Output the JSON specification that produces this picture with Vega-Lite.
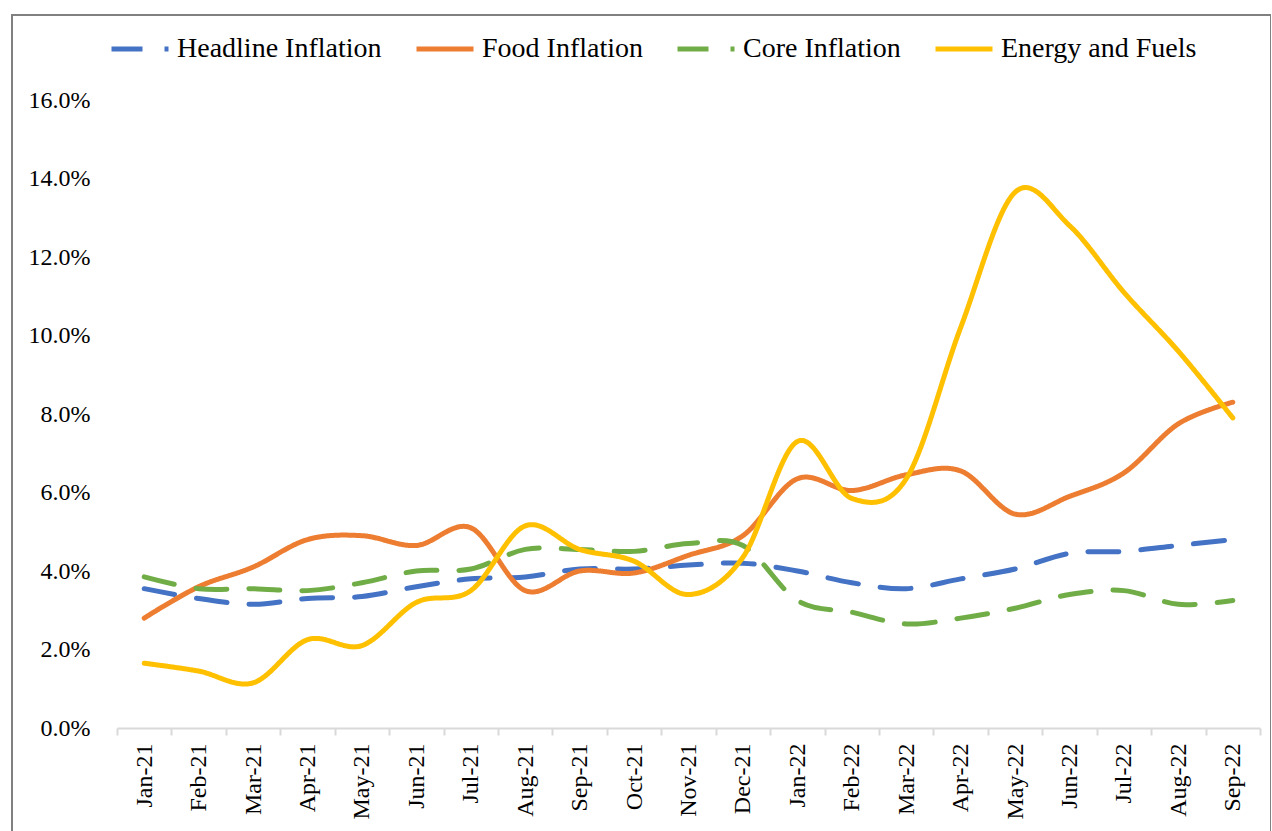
{
  "$schema": "https://vega.github.io/schema/vega-lite/v6.json",
  "width": 1259,
  "height": 830,
  "autosize": {"type": "none"},
  "padding": {"left": 12, "top": 15, "right": 0, "bottom": 0},
  "background": "white",
  "config": {"view": {"stroke": "#808080", "strokeWidth": 2}, "font": "Liberation Serif"},
  "data": {"values": [
    {"month": "Jan-21", "series": "Headline Inflation", "value": 3.55},
    {"month": "Feb-21", "series": "Headline Inflation", "value": 3.3},
    {"month": "Mar-21", "series": "Headline Inflation", "value": 3.15},
    {"month": "Apr-21", "series": "Headline Inflation", "value": 3.3},
    {"month": "May-21", "series": "Headline Inflation", "value": 3.35},
    {"month": "Jun-21", "series": "Headline Inflation", "value": 3.6},
    {"month": "Jul-21", "series": "Headline Inflation", "value": 3.8},
    {"month": "Aug-21", "series": "Headline Inflation", "value": 3.85},
    {"month": "Sep-21", "series": "Headline Inflation", "value": 4.05},
    {"month": "Oct-21", "series": "Headline Inflation", "value": 4.05},
    {"month": "Nov-21", "series": "Headline Inflation", "value": 4.15},
    {"month": "Dec-21", "series": "Headline Inflation", "value": 4.2},
    {"month": "Jan-22", "series": "Headline Inflation", "value": 4.0},
    {"month": "Feb-22", "series": "Headline Inflation", "value": 3.7},
    {"month": "Mar-22", "series": "Headline Inflation", "value": 3.55},
    {"month": "Apr-22", "series": "Headline Inflation", "value": 3.8},
    {"month": "May-22", "series": "Headline Inflation", "value": 4.05},
    {"month": "Jun-22", "series": "Headline Inflation", "value": 4.45},
    {"month": "Jul-22", "series": "Headline Inflation", "value": 4.5},
    {"month": "Aug-22", "series": "Headline Inflation", "value": 4.65},
    {"month": "Sep-22", "series": "Headline Inflation", "value": 4.8},
    {"month": "Jan-21", "series": "Food Inflation", "value": 2.8},
    {"month": "Feb-21", "series": "Food Inflation", "value": 3.6},
    {"month": "Mar-21", "series": "Food Inflation", "value": 4.1},
    {"month": "Apr-21", "series": "Food Inflation", "value": 4.8},
    {"month": "May-21", "series": "Food Inflation", "value": 4.9},
    {"month": "Jun-21", "series": "Food Inflation", "value": 4.65},
    {"month": "Jul-21", "series": "Food Inflation", "value": 5.1},
    {"month": "Aug-21", "series": "Food Inflation", "value": 3.5},
    {"month": "Sep-21", "series": "Food Inflation", "value": 4.0},
    {"month": "Oct-21", "series": "Food Inflation", "value": 3.95},
    {"month": "Nov-21", "series": "Food Inflation", "value": 4.4},
    {"month": "Dec-21", "series": "Food Inflation", "value": 4.9},
    {"month": "Jan-22", "series": "Food Inflation", "value": 6.35},
    {"month": "Feb-22", "series": "Food Inflation", "value": 6.05},
    {"month": "Mar-22", "series": "Food Inflation", "value": 6.45},
    {"month": "Apr-22", "series": "Food Inflation", "value": 6.55},
    {"month": "May-22", "series": "Food Inflation", "value": 5.45},
    {"month": "Jun-22", "series": "Food Inflation", "value": 5.9},
    {"month": "Jul-22", "series": "Food Inflation", "value": 6.5},
    {"month": "Aug-22", "series": "Food Inflation", "value": 7.75},
    {"month": "Sep-22", "series": "Food Inflation", "value": 8.3},
    {"month": "Jan-21", "series": "Core Inflation", "value": 3.85},
    {"month": "Feb-21", "series": "Core Inflation", "value": 3.55},
    {"month": "Mar-21", "series": "Core Inflation", "value": 3.55},
    {"month": "Apr-21", "series": "Core Inflation", "value": 3.5},
    {"month": "May-21", "series": "Core Inflation", "value": 3.7},
    {"month": "Jun-21", "series": "Core Inflation", "value": 4.0},
    {"month": "Jul-21", "series": "Core Inflation", "value": 4.05},
    {"month": "Aug-21", "series": "Core Inflation", "value": 4.55},
    {"month": "Sep-21", "series": "Core Inflation", "value": 4.55},
    {"month": "Oct-21", "series": "Core Inflation", "value": 4.5},
    {"month": "Nov-21", "series": "Core Inflation", "value": 4.7},
    {"month": "Dec-21", "series": "Core Inflation", "value": 4.65},
    {"month": "Jan-22", "series": "Core Inflation", "value": 3.25},
    {"month": "Feb-22", "series": "Core Inflation", "value": 2.95},
    {"month": "Mar-22", "series": "Core Inflation", "value": 2.65},
    {"month": "Apr-22", "series": "Core Inflation", "value": 2.8},
    {"month": "May-22", "series": "Core Inflation", "value": 3.05},
    {"month": "Jun-22", "series": "Core Inflation", "value": 3.4},
    {"month": "Jul-22", "series": "Core Inflation", "value": 3.5},
    {"month": "Aug-22", "series": "Core Inflation", "value": 3.15},
    {"month": "Sep-22", "series": "Core Inflation", "value": 3.25},
    {"month": "Jan-21", "series": "Energy and Fuels", "value": 1.65},
    {"month": "Feb-21", "series": "Energy and Fuels", "value": 1.45},
    {"month": "Mar-21", "series": "Energy and Fuels", "value": 1.15},
    {"month": "Apr-21", "series": "Energy and Fuels", "value": 2.25},
    {"month": "May-21", "series": "Energy and Fuels", "value": 2.1},
    {"month": "Jun-21", "series": "Energy and Fuels", "value": 3.2},
    {"month": "Jul-21", "series": "Energy and Fuels", "value": 3.5},
    {"month": "Aug-21", "series": "Energy and Fuels", "value": 5.15},
    {"month": "Sep-21", "series": "Energy and Fuels", "value": 4.55},
    {"month": "Oct-21", "series": "Energy and Fuels", "value": 4.25},
    {"month": "Nov-21", "series": "Energy and Fuels", "value": 3.4},
    {"month": "Dec-21", "series": "Energy and Fuels", "value": 4.35},
    {"month": "Jan-22", "series": "Energy and Fuels", "value": 7.3},
    {"month": "Feb-22", "series": "Energy and Fuels", "value": 5.85},
    {"month": "Mar-22", "series": "Energy and Fuels", "value": 6.35},
    {"month": "Apr-22", "series": "Energy and Fuels", "value": 10.2},
    {"month": "May-22", "series": "Energy and Fuels", "value": 13.65},
    {"month": "Jun-22", "series": "Energy and Fuels", "value": 12.8},
    {"month": "Jul-22", "series": "Energy and Fuels", "value": 11.1},
    {"month": "Aug-22", "series": "Energy and Fuels", "value": 9.6},
    {"month": "Sep-22", "series": "Energy and Fuels", "value": 7.9}
  ]},
  "mark": {"type": "line", "interpolate": "cardinal", "strokeWidth": 5, "strokeCap": "round", "strokeJoin": "round"},
  "encoding": {
    "x": {
      "field": "month", "type": "ordinal", "sort": null,
      "scale": {"range": [105, 1248], "paddingInner": 0, "paddingOuter": 0},
      "axis": {
        "orient": "bottom", "offset": -117, "title": null,
        "labelAngle": -90, "labelAlign": "right", "labelBaseline": "middle",
        "labelPadding": 8, "labelFontSize": 24, "labelFont": "Liberation Serif", "labelColor": "#000000",
        "domainColor": "#d9d9d9", "domainWidth": 2,
        "tickColor": "#d9d9d9", "tickWidth": 2, "tickSize": 7,
        "tickBand": "extent", "grid": false
      }
    },
    "y": {
      "field": "value", "type": "quantitative",
      "scale": {"domain": [0, 16], "range": [713, 85], "nice": false, "zero": true},
      "axis": {
        "orient": "left", "offset": -78, "title": null,
        "values": [0, 2, 4, 6, 8, 10, 12, 14, 16],
        "labelExpr": "format(datum.value, '.1f') + '%'",
        "ticks": false, "domain": false, "grid": false, "labelPadding": 0,
        "labelFontSize": 24, "labelFont": "Liberation Serif", "labelColor": "#000000"
      }
    },
    "color": {
      "field": "series", "type": "nominal",
      "sort": ["Headline Inflation", "Food Inflation", "Core Inflation", "Energy and Fuels"],
      "scale": {"domain": ["Headline Inflation", "Food Inflation", "Core Inflation", "Energy and Fuels"], "range": ["#4472C4", "#ED7D31", "#70AD47", "#FFC000"]},
      "legend": {
        "orient": "none", "legendX": 97, "legendY": 3, "direction": "horizontal", "columns": 4,
        "title": null, "symbolType": "stroke", "symbolSize": 3249, "symbolStrokeWidth": 5,
        "labelFontSize": 28, "labelFont": "Liberation Serif", "labelColor": "#000000", "labelLimit": 0,
        "columnPadding": 24, "labelOffset": 6, "padding": 0
      }
    },
    "strokeDash": {
      "field": "series", "type": "nominal",
      "sort": ["Headline Inflation", "Food Inflation", "Core Inflation", "Energy and Fuels"],
      "scale": {"domain": ["Headline Inflation", "Food Inflation", "Core Inflation", "Energy and Fuels"], "range": [[31, 22], [1, 0], [31, 22], [1, 0]]},
      "legend": {
        "orient": "none", "legendX": 97, "legendY": 3, "direction": "horizontal", "columns": 4,
        "title": null, "symbolType": "stroke", "symbolSize": 3249, "symbolStrokeWidth": 5,
        "labelFontSize": 28, "labelFont": "Liberation Serif", "labelColor": "#000000", "labelLimit": 0,
        "columnPadding": 24, "labelOffset": 6, "padding": 0
      }
    },
    "order": {"value": null}
  }
}
